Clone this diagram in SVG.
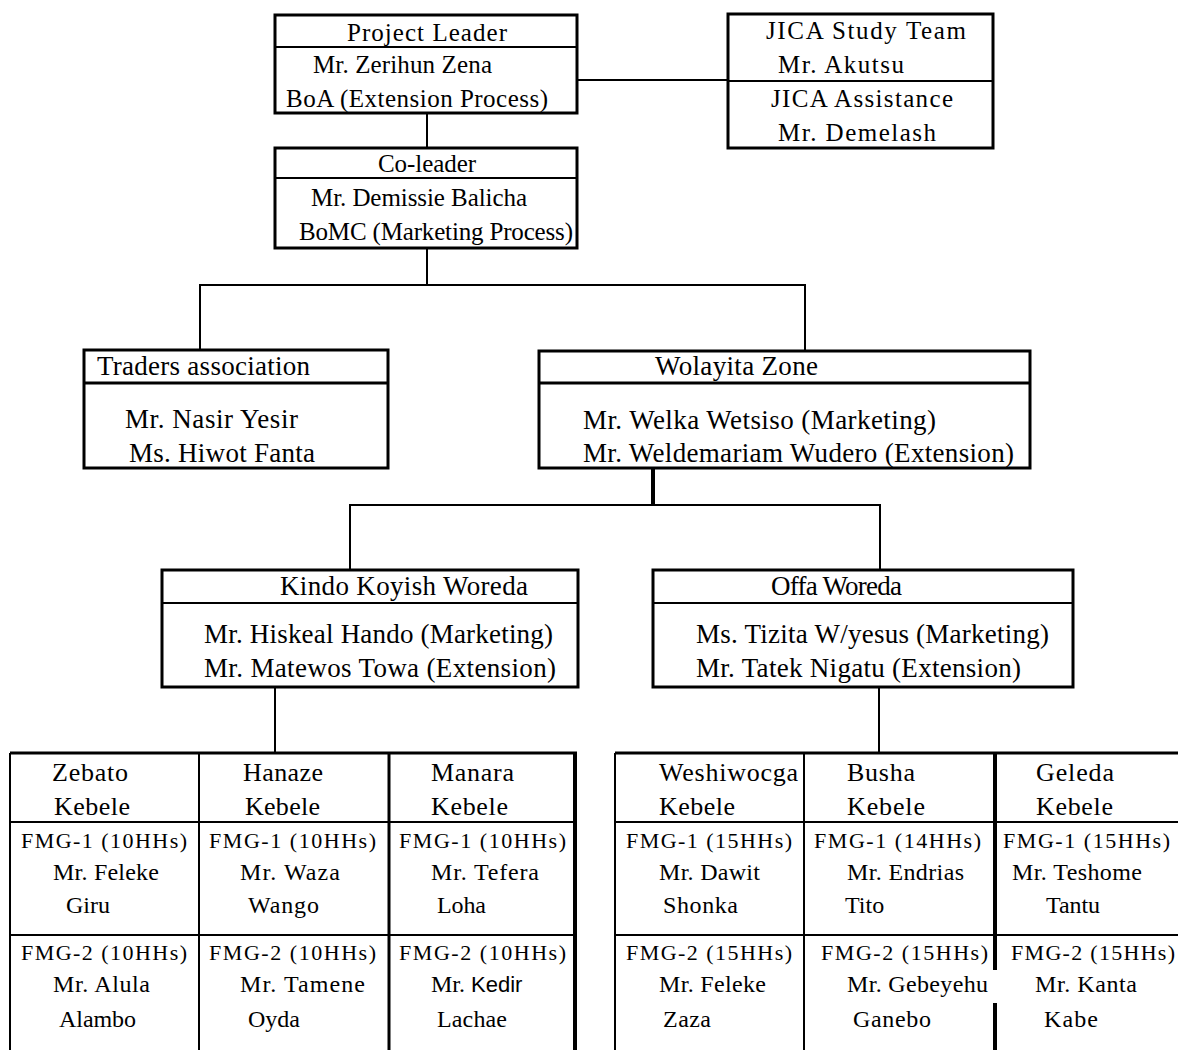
<svg xmlns="http://www.w3.org/2000/svg" width="1178" height="1050" viewBox="0 0 1178 1050">
<style>
text{font-family:"Liberation Serif","Times New Roman",serif;fill:#000;}
.p{font-size:25px;}
.h{font-size:27px;}
.k{font-size:26px;}
.f{font-size:22px;}
.n{font-size:24px;}
.box{fill:#fff;stroke:#000;stroke-width:3;}
.div{stroke:#000;stroke-width:2;}
.c{stroke:#000;stroke-width:2;fill:none;}
.t{stroke:#000;stroke-width:2;}
.T{stroke:#000;stroke-width:4;}
</style>
<rect width="1178" height="1050" fill="#fff"/>
<g id="connectors">
<line class="c" x1="577" y1="80" x2="728" y2="80"/>
<line class="c" x1="427" y1="113" x2="427" y2="148"/>
<polyline class="c" points="427,248 427,285"/>
<polyline class="c" points="200,350 200,285 805,285 805,351"/>
<line class="c" x1="653" y1="468" x2="653" y2="505" style="stroke-width:4"/>
<polyline class="c" points="350,570 350,505 880,505 880,570"/>
<line class="c" x1="275" y1="687" x2="275" y2="753"/>
<line class="c" x1="879" y1="687" x2="879" y2="753"/>
</g>
<g id="project-leader">
<rect class="box" x="275" y="15" width="302" height="98"/>
<line class="div" x1="275" y1="47" x2="577" y2="47"/>
<text class="p" x="347" y="41" textLength="160">Project Leader</text>
<text class="p" x="313" y="73" textLength="179">Mr. Zerihun Zena</text>
<text class="p" x="286" y="107" textLength="262">BoA (Extension Process)</text>
</g>
<g id="jica">
<rect class="box" x="728" y="14" width="265" height="134"/>
<line class="div" x1="728" y1="81" x2="993" y2="81"/>
<text class="p" x="766" y="39" textLength="200">JICA Study Team</text>
<text class="p" x="778" y="73" textLength="126">Mr. Akutsu</text>
<text class="p" x="771" y="107" textLength="182">JICA Assistance</text>
<text class="p" x="778" y="141" textLength="158">Mr. Demelash</text>
</g>
<g id="co-leader">
<rect class="box" x="275" y="148" width="302" height="100"/>
<line class="div" x1="275" y1="178" x2="577" y2="178"/>
<text class="p" x="378" y="172" textLength="98">Co-leader</text>
<text class="p" x="311" y="206" textLength="216">Mr. Demissie Balicha</text>
<text class="p" x="299" y="240" textLength="274">BoMC (Marketing Process)</text>
</g>
<g id="traders">
<rect class="box" x="84" y="350" width="304" height="118"/>
<line class="div" x1="84" y1="383" x2="388" y2="383" style="stroke-width:3"/>
<text class="h" x="97" y="375" textLength="213">Traders association</text>
<text class="h" x="125" y="428" textLength="173">Mr. Nasir Yesir</text>
<text class="h" x="129" y="462" textLength="186">Ms. Hiwot Fanta</text>
</g>
<g id="wolayita">
<rect class="box" x="539" y="351" width="491" height="117"/>
<line class="div" x1="539" y1="383" x2="1030" y2="383" style="stroke-width:3"/>
<text class="h" x="655" y="375" textLength="163">Wolayita Zone</text>
<text class="h" x="583" y="429" textLength="353">Mr. Welka Wetsiso (Marketing)</text>
<text class="h" x="583" y="462" textLength="431">Mr. Weldemariam Wudero (Extension)</text>
</g>
<g id="kindo">
<rect class="box" x="162" y="570" width="416" height="117"/>
<line class="div" x1="162" y1="603" x2="578" y2="603"/>
<text class="h" x="280" y="595" textLength="248">Kindo Koyish Woreda</text>
<text class="h" x="204" y="643" textLength="349">Mr. Hiskeal Hando (Marketing)</text>
<text class="h" x="204" y="677" textLength="352">Mr. Matewos Towa (Extension)</text>
</g>
<g id="offa">
<rect class="box" x="653" y="570" width="420" height="117"/>
<line class="div" x1="653" y1="603" x2="1073" y2="603"/>
<text class="h" x="771" y="595" textLength="131">Offa Woreda</text>
<text class="h" x="696" y="643" textLength="353">Ms. Tizita W/yesus (Marketing)</text>
<text class="h" x="696" y="677" textLength="325">Mr. Tatek Nigatu (Extension)</text>
</g>
<g id="kindo-kebeles">
<line class="t" x1="10" y1="753" x2="577" y2="753" style="stroke-width:3"/>
<line class="t" x1="10" y1="753" x2="10" y2="1050"/>
<line class="t" x1="199" y1="753" x2="199" y2="1050"/>
<line class="t" x1="389" y1="753" x2="389" y2="1050" style="stroke-width:3"/>
<line class="T" x1="575" y1="753" x2="575" y2="1050"/>
<line class="t" x1="10" y1="822" x2="575" y2="822"/>
<line class="t" x1="10" y1="935" x2="575" y2="935"/>
<g id="zebato">
<text class="k" x="52" y="781" textLength="76">Zebato</text>
<text class="k" x="54" y="815" textLength="76">Kebele</text>
<text class="f" x="21" y="848" textLength="166">FMG-1 (10HHs)</text>
<text class="n" x="53" y="880" textLength="106">Mr. Feleke</text>
<text class="n" x="66" y="913">Giru</text>
<text class="f" x="21" y="960" textLength="166">FMG-2 (10HHs)</text>
<text class="n" x="53" y="992" textLength="97">Mr. Alula</text>
<text class="n" x="59" y="1027" textLength="77">Alambo</text>
</g>
<g id="hanaze">
<text class="k" x="243" y="781" textLength="80">Hanaze</text>
<text class="k" x="245" y="815" textLength="75">Kebele</text>
<text class="f" x="209" y="848" textLength="167">FMG-1 (10HHs)</text>
<text class="n" x="240" y="880" textLength="100">Mr. Waza</text>
<text class="n" x="248" y="913" textLength="71">Wango</text>
<text class="f" x="209" y="960" textLength="167">FMG-2 (10HHs)</text>
<text class="n" x="240" y="992" textLength="125">Mr. Tamene</text>
<text class="n" x="248" y="1027" textLength="52">Oyda</text>
</g>
<g id="manara">
<text class="k" x="431" y="781" textLength="83">Manara</text>
<text class="k" x="431" y="815" textLength="77">Kebele</text>
<text class="f" x="399" y="848" textLength="167">FMG-1 (10HHs)</text>
<text class="n" x="431" y="880" textLength="108">Mr. Tefera</text>
<text class="n" x="437" y="913" textLength="49">Loha</text>
<text class="f" x="399" y="960" textLength="167">FMG-2 (10HHs)</text>
<text class="n" x="431" y="992">Mr. <tspan style="font-family:'Liberation Sans',Arial,sans-serif" font-size="22">Kedir</tspan></text>
<text class="n" x="437" y="1027" textLength="70">Lachae</text>
</g>
</g>
<g id="offa-kebeles">
<line class="t" x1="615" y1="753" x2="1178" y2="753" style="stroke-width:3"/>
<line class="t" x1="615" y1="753" x2="615" y2="1050"/>
<line class="t" x1="804" y1="753" x2="804" y2="1050"/>
<line class="T" x1="995" y1="753" x2="995" y2="970"/>
<line class="T" x1="995" y1="1003" x2="995" y2="1050"/>
<line class="t" x1="615" y1="822" x2="1178" y2="822"/>
<line class="t" x1="615" y1="935" x2="1178" y2="935"/>
<g id="weshiwocga">
<text class="k" x="659" y="781" textLength="139">Weshiwocga</text>
<text class="k" x="659" y="815" textLength="76">Kebele</text>
<text class="f" x="626" y="848" textLength="166">FMG-1 (15HHs)</text>
<text class="n" x="659" y="880" textLength="101">Mr. Dawit</text>
<text class="n" x="663" y="913" textLength="75">Shonka</text>
<text class="f" x="626" y="960" textLength="166">FMG-2 (15HHs)</text>
<text class="n" x="659" y="992" textLength="107">Mr. Feleke</text>
<text class="n" x="663" y="1027" textLength="48">Zaza</text>
</g>
<g id="busha">
<text class="k" x="847" y="781" textLength="68">Busha</text>
<text class="k" x="847" y="815" textLength="78">Kebele</text>
<text class="f" x="814" y="848" textLength="167">FMG-1 (14HHs)</text>
<text class="n" x="847" y="880" textLength="117">Mr. Endrias</text>
<text class="n" x="845" y="913">Tito</text>
<text class="f" x="821" y="960" textLength="167">FMG-2 (15HHs)</text>
<text class="n" x="847" y="992" textLength="141">Mr. Gebeyehu</text>
<text class="n" x="853" y="1027" textLength="78">Ganebo</text>
</g>
<g id="geleda">
<text class="k" x="1036" y="781" textLength="78">Geleda</text>
<text class="k" x="1036" y="815" textLength="77">Kebele</text>
<text class="f" x="1003" y="848" textLength="167">FMG-1 (15HHs)</text>
<text class="n" x="1012" y="880" textLength="130">Mr. Teshome</text>
<text class="n" x="1046" y="913" textLength="54">Tantu</text>
<text class="f" x="1011" y="960" textLength="164">FMG-2 (15HHs)</text>
<text class="n" x="1035" y="992" textLength="102">Mr. Kanta</text>
<text class="n" x="1044" y="1027" textLength="54">Kabe</text>
</g>
</g>
</svg>
